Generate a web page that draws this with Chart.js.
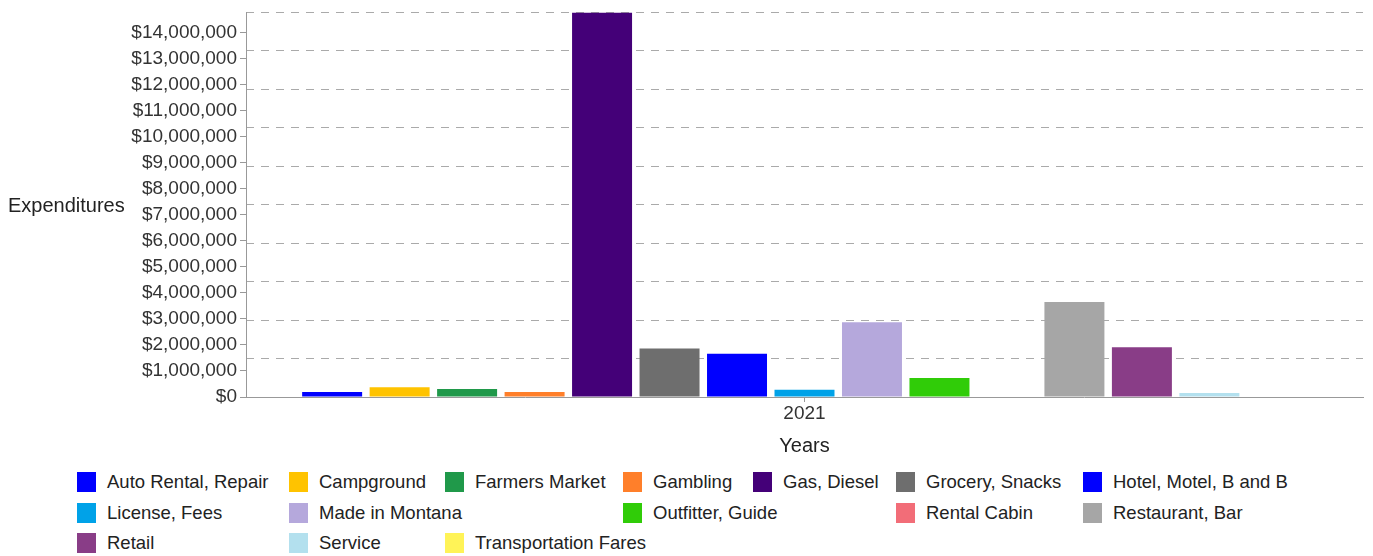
<!DOCTYPE html>
<html>
<head>
<meta charset="utf-8">
<script src="https://cdn.jsdelivr.net/npm/chart.js@4.4.0/dist/chart.umd.min.js"></script>
<style>
  body { margin: 0; background: #fff; font-family: 'Liberation Sans', Arial, sans-serif; }
  #wrap { position: relative; width: 1373px; height: 462px; }
  #legend { position: absolute; left: 77px; top: 472px; display: grid;
    grid-template-columns: 212px 156px 178px 130px 143px 187px 220px; grid-auto-rows: 30.5px; }
  .item { display: flex; align-items: center; height: 20px; font-size: 18.5px; color: #222; white-space: nowrap; }
  .sw { width: 19px; height: 20px; margin-right: 11px; flex: none; }
</style>
</head>
<body>
<div id="wrap"><canvas id="chart"></canvas></div>
<div id="legend"></div>
<script>
// categorias e séries
const categories = ['2021'];
const seriesNames = ['', 'Auto Rental, Repair', 'Campground', 'Farmers Market', 'Gambling', 'Gas, Diesel',
  'Grocery, Snacks', 'Hotel, Motel, B and B', 'License, Fees', 'Made in Montana', 'Outfitter, Guide',
  'Rental Cabin', 'Restaurant, Bar', 'Retail', 'Service', 'Transportation Fares', ''];
const seriesValues = [0, 190000, 370000, 310000, 190000, 14780000,
  1860000, 1660000, 280000, 2870000, 730000,
  0, 3650000, 1910000, 150000, 0, 0];
const seriesColors = ['#ffffff', '#0000ff', '#ffc300', '#20994a', '#ff7f2a', '#440078',
  '#6e6e6e', '#0000ff', '#00a2e8', '#b5a8dc', '#30cc08',
  '#f26d78', '#a6a6a6', '#893d87', '#b3e0ee', '#fff357', '#ffffff'];
// ordem da legenda (null = espaço vazio)
const legendSlots = ['Auto Rental, Repair', 'Campground', 'Farmers Market', 'Gambling', 'Gas, Diesel',
  'Grocery, Snacks', 'Hotel, Motel, B and B', 'License, Fees', 'Made in Montana', null, 'Outfitter, Guide',
  null, 'Rental Cabin', 'Restaurant, Bar', 'Retail', 'Service', 'Transportation Fares'];
const yTickValues = [0, 1000000, 2000000, 3000000, 4000000, 5000000, 6000000, 7000000,
  8000000, 9000000, 10000000, 11000000, 12000000, 13000000, 14000000];
const gridDivisions = 10;

const yMax = Math.max(...seriesValues);
const canvas = document.getElementById('chart');
canvas.width = 1373; canvas.height = 462;
canvas.style.width = '1373px'; canvas.style.height = '462px';

// título do eixo Y na horizontal
const yTitle = {
  id: 'yTitle',
  afterDraw(chart) {
    const { ctx, chartArea } = chart;
    ctx.save();
    ctx.font = '20px "Liberation Sans", Arial, sans-serif';
    ctx.fillStyle = '#222';
    ctx.textBaseline = 'middle';
    ctx.fillText('Expenditures', 8, (chartArea.top + chartArea.bottom) / 2 + 2);
    ctx.restore();
  }
};

const chart = new Chart(canvas.getContext('2d'), {
  type: 'bar',
  data: {
    labels: categories,
    datasets: seriesNames.map((n, i) => ({
      label: n,
      data: [seriesValues[i]],
      backgroundColor: seriesColors[i],
      categoryPercentage: 1.027,
      barPercentage: 0.889,
      yAxisID: 'y'
    }))
  },
  options: {
    responsive: false,
    animation: false,
    layout: { padding: { top: 5 } },
    plugins: { legend: { display: false }, tooltip: { enabled: false } },
    scales: {
      x: {
        offset: true,
        grid: { drawOnChartArea: false, offset: false, tickLength: 5, color: '#999' },
        border: { color: '#999' },
        ticks: { color: '#333', font: { size: 19, family: 'Liberation Sans' }, padding: 0 },
        title: { display: true, text: 'Years', color: '#222', font: { size: 20, family: 'Liberation Sans' }, padding: { top: 4, bottom: 4 } },
        afterFit: s => { s.height = 65; }
      },
      y: {
        position: 'left', min: 0, max: yMax,
        afterBuildTicks: s => { s.ticks = yTickValues.map(v => ({ value: v })); },
        ticks: { color: '#333', padding: 3,
          font: { size: 19, family: 'Liberation Sans', lineHeight: 1 },
          callback: v => '$' + v.toLocaleString('en-US') },
        grid: { drawOnChartArea: false, tickLength: 6, color: '#999' },
        border: { color: '#999' },
        afterFit: s => { s.width = 246; }
      },
      y2: {
        position: 'right', min: 0, max: yMax,
        ticks: { count: gridDivisions + 1, display: false },
        grid: { color: '#aaa', drawTicks: false },
        border: { display: false, dash: [8, 7] },
        afterFit: s => { s.width = 10; }
      }
    }
  },
  plugins: [yTitle]
});

// legenda em grade
const legendNode = document.getElementById('legend');
legendSlots.forEach(name => {
  const d = document.createElement('div');
  d.className = 'item';
  if (name) {
    const c = seriesColors[seriesNames.indexOf(name)];
    d.innerHTML = `<span class="sw" style="background:${c}"></span><span>${name}</span>`;
  }
  legendNode.appendChild(d);
});
</script>
</body>
</html>
